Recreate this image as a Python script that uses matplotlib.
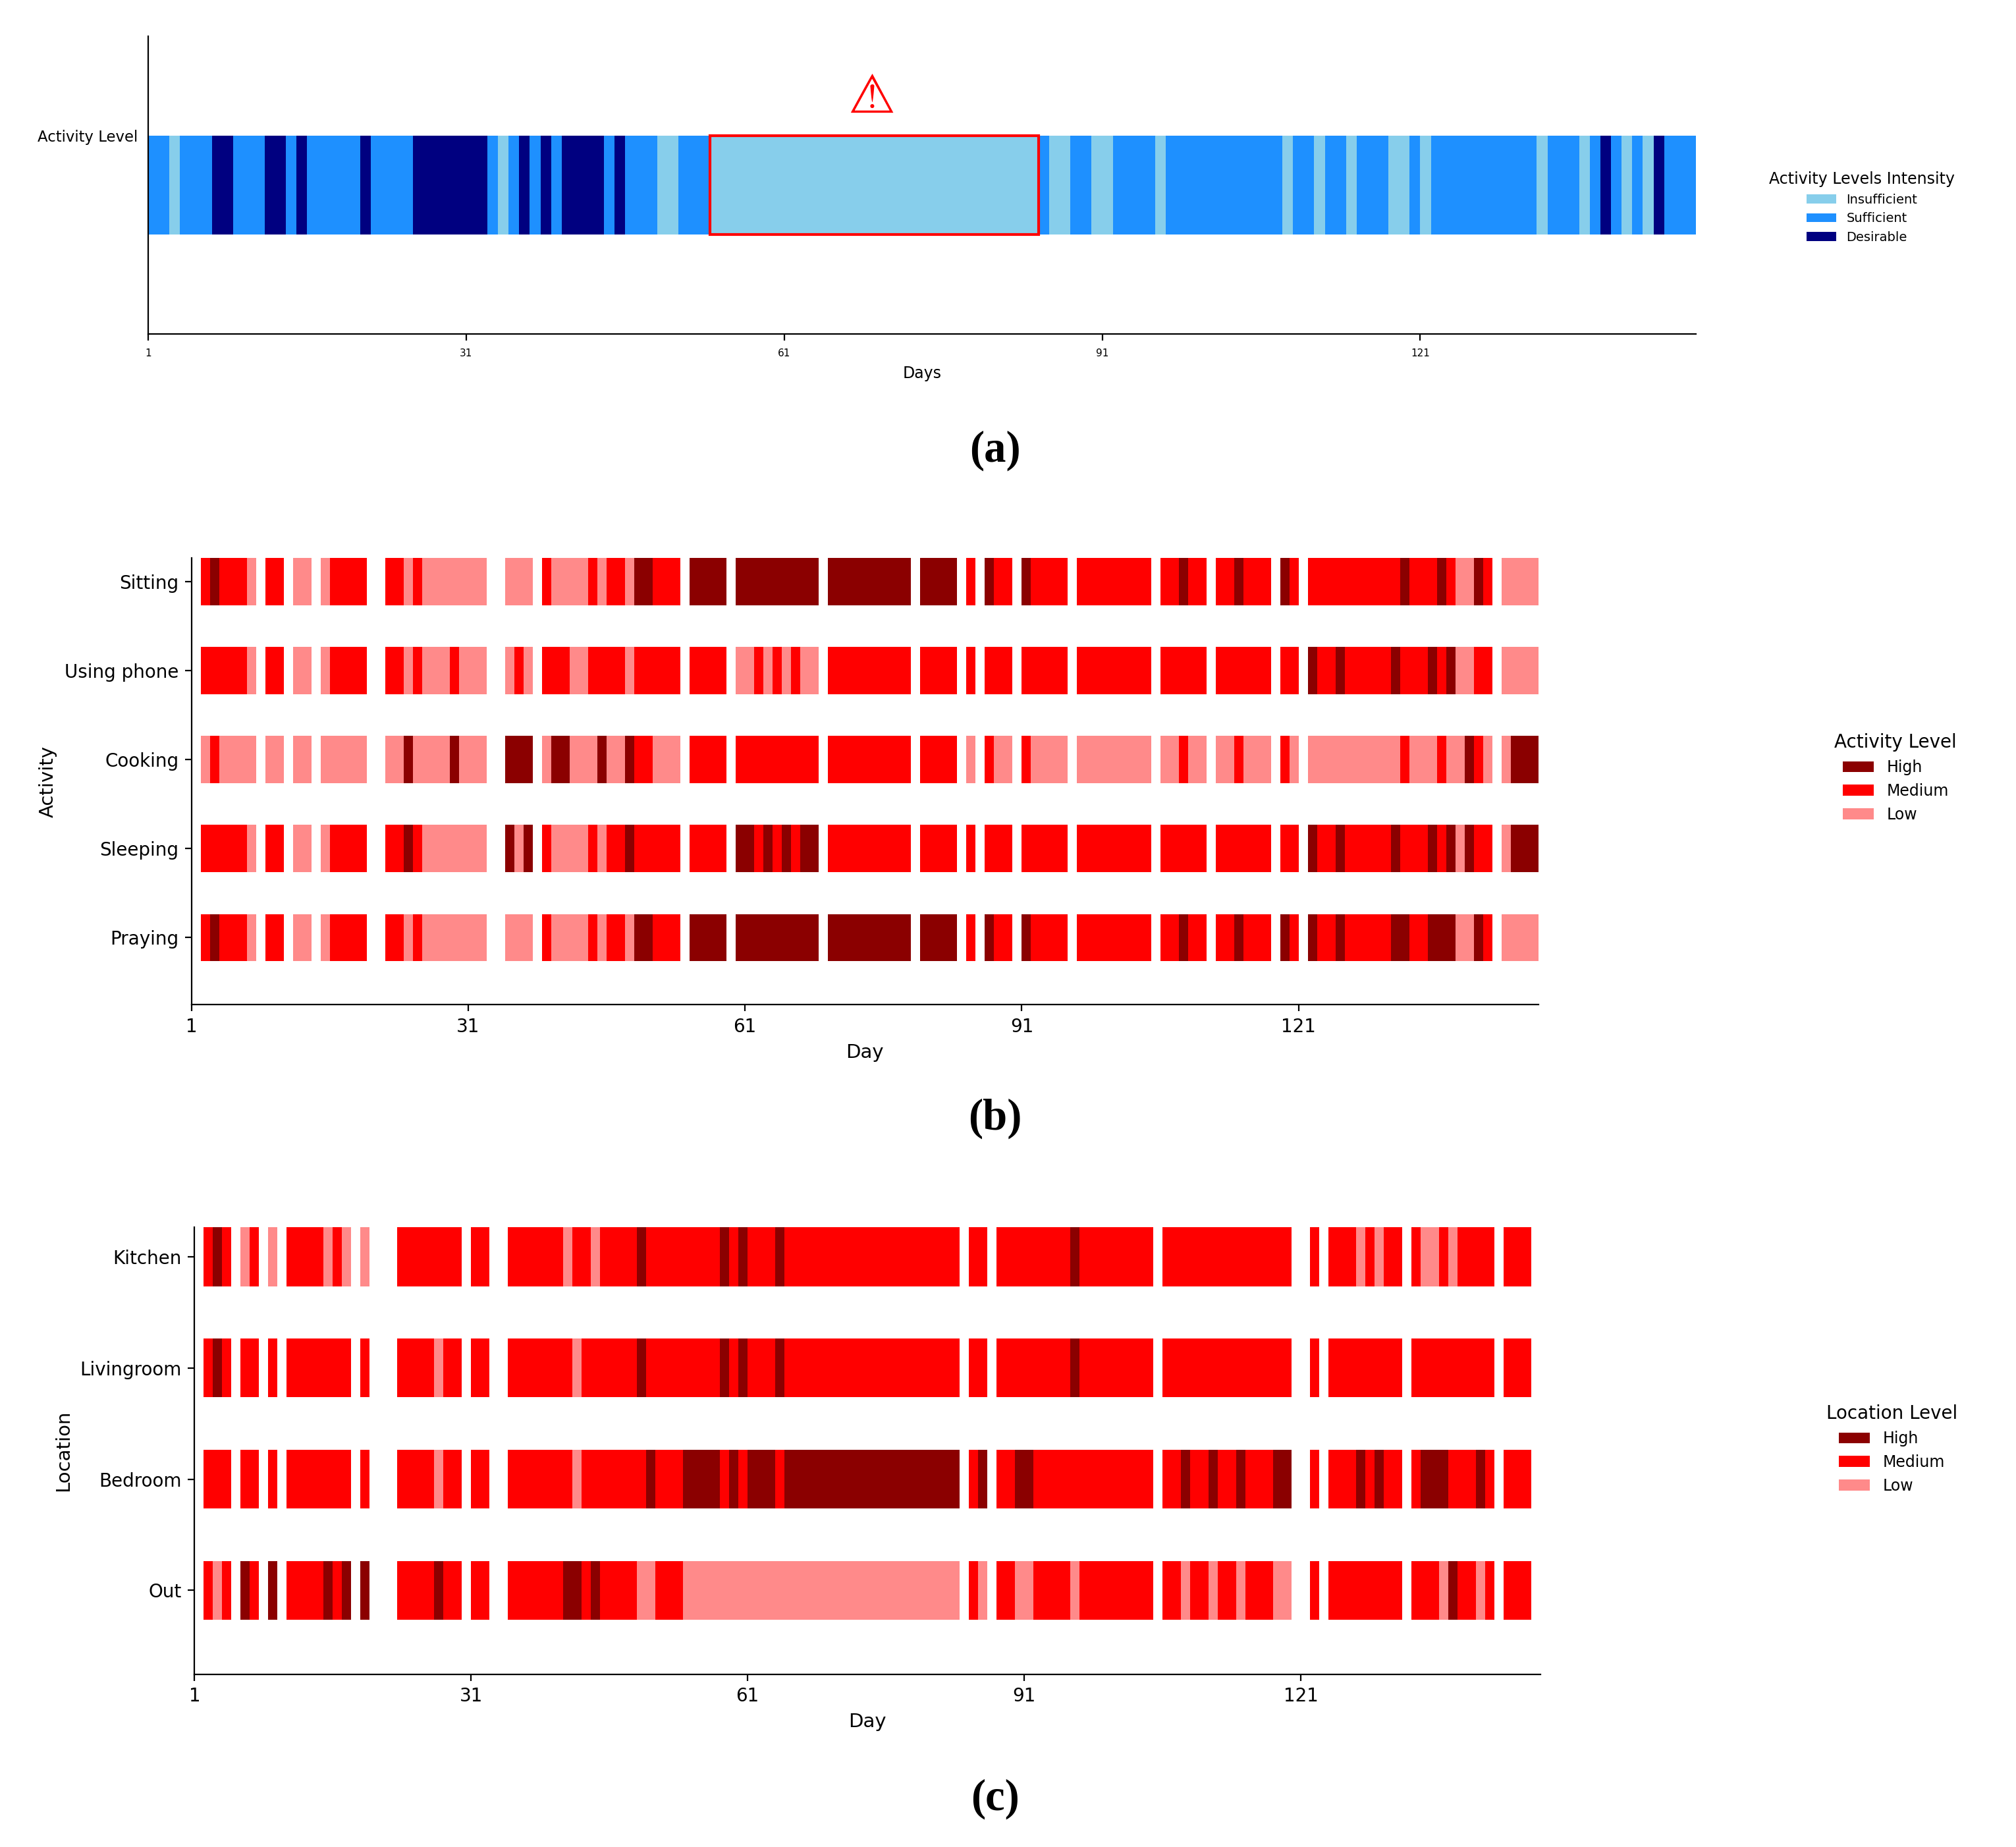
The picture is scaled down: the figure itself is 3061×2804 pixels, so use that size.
import matplotlib
matplotlib.use("Agg")
import matplotlib.pyplot as plt
from matplotlib.patches import Patch, Rectangle

# one character per day (days 1..146), spaces are only for reading
days = list(range(1, 147))
day_ticks = [1, 31, 61, 91, 121]

# (a) overall activity level: I = insufficient, S = sufficient, D = desirable
activity_level = ("SS I SSS DD SSS DD S D SSSSS D SSSS DDDDD DD S I S D S D S DDDD S D SSS II SSS "
                  "IIIII IIIII IIIII IIIII IIIII IIIII I S II SS II SSSS I SSSSS SSSSS S I SS I SS I "
                  "SSS II S I SSSSS SSSSS I SSS I S D S I S I D SSS")
intensity_names = ["Insufficient", "Sufficient", "Desirable"]
intensity_codes = ["I", "S", "D"]
intensity_colors = ["#87CEEB", "#1E90FF", "#000080"]
alert_days = (54, 85)

# (b) activities: H = high, M = medium, L = low, . = no data
activities = ["Sitting", "Using phone", "Cooking", "Sleeping", "Praying"]
sitting = (". M H MMM L . MM . LL . L MMMM .. MM L M LLLLL LL .. LLL . M LLLL M L MM L HH MMM . "
           "HHHH . HHHHH HHHH . HHHHH HHHH . HHHH . M . H MM . H MMMM . MMMMM MMM . MM H MM . MM H "
           "MMM . H M . MMMMM MMMMM H MMM H M LL H M . LLLL")
using_phone = (". MMMMM L . MM . LL . L MMMM .. MM L M LLL M LLL .. L M L . MMM LL MMMM L MMMMM . MMMM . "
               "LL M L M L M LL . MMMMM MMMM . MMMM . M . MMM . MMMMM . MMMMM MMM . MMMMM . MMMMM M . "
               "MM . H MM H MMMMM H MMM H M H LL MM . LLLL")
cooking = (". L M LLLL . LL . LL . LLLLL .. LL H LLLL H LLL .. HHH . L HH LLL H LL H MM LLL . MMMM . "
           "MMMMM MMMM . MMMMM MMMM . MMMM . L . M LL . M LLLL . LLLLL LLL . LL M LL . LL M LLL . M L . "
           "LLLLL LLLLL M LLL M LL H M L . L HHH")
sleeping = (". MMMMM L . MM . LL . L MMMM .. MM H M LLLLL LL .. H L H . M LLLL M L MM H MMMMM . MMMM . "
            "HH M H M H M HH . MMMMM MMMM . MMMM . M . MMM . MMMMM . MMMMM MMM . MMMMM . MMMMM M . "
            "MM . H MM H MMMMM H MMM H M H L H MM . L HHH")
praying = (". M H MMM L . MM . LL . L MMMM .. MM L M LLLLL LL .. LLL . M LLLL M L MM L HH MMM . "
           "HHHH . HHHHH HHHH . HHHHH HHHH . HHHH . M . H MM . H MMMM . MMMMM MMM . MM H MM . MM H "
           "MMM . H M . H MM H MMMMM HH MM HHH LL H M . LLLL")

# (c) locations
locations = ["Kitchen", "Livingroom", "Bedroom", "Out"]
kitchen = (". M H M . L M . L . MMMM L M L . L ... MMMMM MM . MM .. MMMMM M L MM L MMMM H MMMMM MMM "
           "H M H MMM H MMMMM MMMMM MMMMM MMMM . MM . MMMMM MMM H MMMMM MMM . MMMMM MMMMM MMMM .. M . "
           "MMM L M L MM . M LL M L MMMM . MMM .")
livingroom = (". M H M . MM . M . MMMMM MM . M ... MMMM L MM . MM .. MMMMM MM L MMMMM M H MMMMM MMM "
              "H M H MMM H MMMMM MMMMM MMMMM MMMM . MM . MMMMM MMM H MMMMM MMM . MMMMM MMMMM MMMM .. "
              "M . MMMMM MMM . MMMMM MMMM . MMM .")
bedroom = (". MMM . MM . M . MMMMM MM . M ... MMMM L MM . MM .. MMMMM MM L MMMMM MM H MMM HHHH M H M "
           "HHH M HHHHH HHHHH HHHHH HHHH . M H . MM HH MMMMM MMMMM MMM . MM H MM H MM H MMM HH .. "
           "M . MMM H M H MM . M HHH MMM H M . MMM .")
out = (". M L M . H M . H . MMMM H M H . H ... MMMM H MM . MM .. MMMMM M HH M H MMMM LL MMM "
       "LLLLL LLLLL LLLLL LLLLL LLLLL LLLLL . M L . MM LL MMMM L MMMMM MMM . MM L MM L MM L MMM LL .. "
       "M . MMMMM MMM . MMM L H MM L M . MMM .")

level_names = ["High", "Medium", "Low"]
level_codes = ["H", "M", "L"]
level_colors = ["#8B0000", "#FF0000", "#FF8A8A"]


def clean(s):
    v = s.replace(" ", "")
    assert len(v) == len(days), len(v)
    return v


def runs(seq):
    # consecutive equal days -> (first day, length, code)
    res = []
    start = 0
    for i in range(1, len(seq) + 1):
        if i == len(seq) or seq[i] != seq[start]:
            res.append((days[start], i - start, seq[start]))
            start = i
    return res


def draw_row(ax, seq, y0, h, codes, colors):
    r = runs(clean(seq))
    for c, col in zip(codes, colors):
        segs = [(s, n) for s, n, k in r if k == c]
        if segs:
            ax.broken_barh(segs, (y0, h), facecolors=col, edgecolor="none")


fig = plt.figure(figsize=(15.305, 14.02), dpi=200)

# ---------------- (a)
ax = fig.add_axes([0.0735, 0.8192, 0.7677, 0.1612])
draw_row(ax, activity_level, -1, 1, intensity_codes, intensity_colors)
ax.add_patch(Rectangle((alert_days[0], -1), alert_days[1] - alert_days[0], 1,
                       fill=False, edgecolor="red", lw=1.5, zorder=5))
ax.text((alert_days[0] + alert_days[1]) / 2 - 0.3, 0.37, "\u26a0", color="red",
        fontsize=29, ha="center", va="center", family="DejaVu Sans")
ax.set_xlim(1, 147)
ax.set_ylim(-2, 1)
ax.set_xticks(day_ticks)
ax.set_xticklabels([str(d) for d in day_ticks])
ax.set_yticks([0])
ax.set_yticklabels(["Activity Level"])
ax.tick_params(axis="x", labelsize=5.5, pad=4.5)
ax.tick_params(axis="y", length=0, pad=5.5, labelsize=8.2)
ax.set_xlabel("Days", fontsize=8.5)
for s in ["top", "right"]:
    ax.spines[s].set_visible(False)
h_a = [Patch(facecolor=c, label=n) for n, c in zip(intensity_names, intensity_colors)]
ax.legend(handles=h_a, title="Activity Levels Intensity", loc="center",
          bbox_to_anchor=(0.9236, 0.8877), bbox_transform=fig.transFigure,
          frameon=False, fontsize=7, title_fontsize=8.5, handlelength=2.3)

# ---------------- (b) and (c)
h_lv = [Patch(facecolor=c, label=n) for n, c in zip(level_names, level_colors)]


def panel(rect, names, rows, ylabel, ltitle, lpos):
    ax = fig.add_axes(rect)
    n = len(rows)
    for i, row in enumerate(rows):
        y = n - 1 - i
        draw_row(ax, row, y - 0.265, 0.53, level_codes, level_colors)
    ax.set_xlim(1, 147)
    ax.set_ylim(-0.753, n - 1 + 0.266)
    ax.set_yticks(range(n))
    ax.set_yticklabels(names[::-1])
    ax.set_xticks(day_ticks)
    ax.tick_params(labelsize=10)
    ax.set_xlabel("Day", fontsize=10.5)
    ax.set_ylabel(ylabel, fontsize=10.5)
    for s in ["top", "right"]:
        ax.spines[s].set_visible(False)
    ax.legend(handles=h_lv, title=ltitle, loc="center", bbox_to_anchor=lpos,
              bbox_transform=fig.transFigure, frameon=False, fontsize=8.5,
              title_fontsize=10)
    return ax


panel([0.0950, 0.4561, 0.6681, 0.2418], activities,
      [sitting, using_phone, cooking, sleeping, praying],
      "Activity", "Activity Level", (0.9403, 0.5788))
panel([0.0965, 0.0936, 0.6676, 0.2420], locations,
      [kitchen, livingroom, bedroom, out],
      "Location", "Location Level", (0.9384, 0.2154))

for y, lab in [(0.756, "(a)"), (0.3944, "(b)"), (0.026, "(c)")]:
    fig.text(0.4936, y, lab, ha="center", va="center", fontsize=24,
             family="Liberation Serif", weight="bold")

fig.savefig("out.png", dpi=200)
